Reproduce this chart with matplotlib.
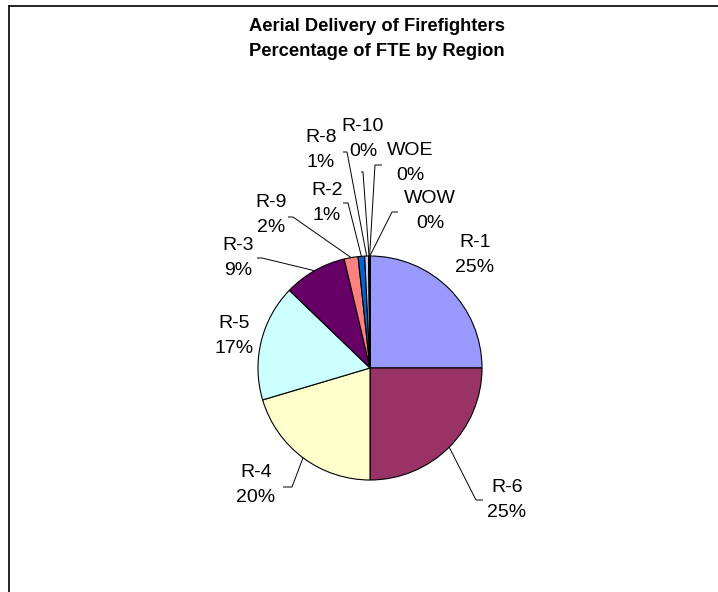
import numpy as np
import matplotlib
matplotlib.use("Agg")
import matplotlib.pyplot as plt
from matplotlib.lines import Line2D

plt.rcParams['font.family'] = ['Liberation Sans', 'DejaVu Sans']

# FTE share by region (percent)
regions = ["R-1", "R-6", "R-4", "R-5", "R-3", "R-9", "R-2", "R-8", "R-10", "WOE", "WOW"]
shares = [25.0, 25.0, 20.4, 16.8, 9.1, 2.0, 0.95, 0.55, 0.12, 0.05, 0.03]
colors = ["#9999FF", "#993366", "#FFFFCC", "#CCFFFF", "#660066", "#FF8080",
          "#0066CC", "#CCCCFF", "#000080", "#FF00FF", "#FFFF00"]
title_lines = ["Aerial Delivery of Firefighters", "Percentage of FTE by Region"]

W, H = 718, 592


def px(x, y):
    """Pixel position (origin top-left) to data coordinates."""
    return x, H - y


# label layout: text centre and optional leader (end near text, elbow)
label_pos = {
    "R-1": (475, 255), "R-6": (507, 500), "R-4": (256, 485), "R-5": (234, 336),
    "R-3": (238, 258), "R-9": (271, 215), "R-2": (327, 203), "R-8": (321, 150),
    "R-10": (363, 139), "WOE": (410, 163), "WOW": (430, 211),
}
leaders = {
    "R-6": [(483, 500), (476, 500)],
    "R-4": [(283, 487), (292, 487)],
    "R-3": [(257, 258), (262, 258)],
    "R-9": [(288, 217), (293, 217)],
    "R-2": [(343, 203), (348, 203)],
    "R-8": [(343, 152), (347, 152)],
    "R-10": [(361, 172), (363, 172)],
    "WOE": [(382, 165), (375, 165)],
    "WOW": [(398, 212), (392, 212)],
}

center_px = (370, 368)
radius = 112

fig = plt.figure(figsize=(W / 100, H / 100), dpi=100)
ax = fig.add_axes([0, 0, 1, 1])

cx, cy = px(*center_px)
wedges, _ = ax.pie(shares, colors=colors, startangle=90, counterclock=False,
                   center=(cx, cy), radius=radius,
                   wedgeprops=dict(edgecolor="black", linewidth=0.8))

ax.set_xlim(0, W)
ax.set_ylim(0, H)
ax.set_aspect("equal", adjustable="box")
ax.axis("off")

total = sum(shares)
for name, val, w in zip(regions, shares, wedges):
    pct = int(val / total * 100 + 0.5)
    tx, ty = px(*label_pos[name])
    ax.text(tx, ty, f"{name}\n{pct}%", ha="center", va="center",
            fontsize=14, linespacing=1.55, color="black")
    if name in leaders:
        mid = np.deg2rad((w.theta1 + w.theta2) / 2)
        ex, ey = cx + radius * np.cos(mid), cy + radius * np.sin(mid)
        pts = [px(*p) for p in leaders[name]] + [(ex, ey)]
        xs, ys = zip(*pts)
        ax.plot(xs, ys, color="black", linewidth=0.7, solid_capstyle="butt")

tx, ty = px(377, 39)
ax.text(tx, ty, "\n".join(title_lines), ha="center", va="center",
        fontsize=13.2, fontweight="bold", linespacing=1.6)

# chart area border (top and left edges fall inside the image)
fig.add_artist(Line2D([9 / W, 1], [1 - 5.5 / H, 1 - 5.5 / H],
                      transform=fig.transFigure, color="black", linewidth=1.2))
fig.add_artist(Line2D([9 / W, 9 / W], [0, 1 - 5.5 / H],
                      transform=fig.transFigure, color="black", linewidth=1.2))

fig.savefig("out.png", dpi=100, facecolor="white")
